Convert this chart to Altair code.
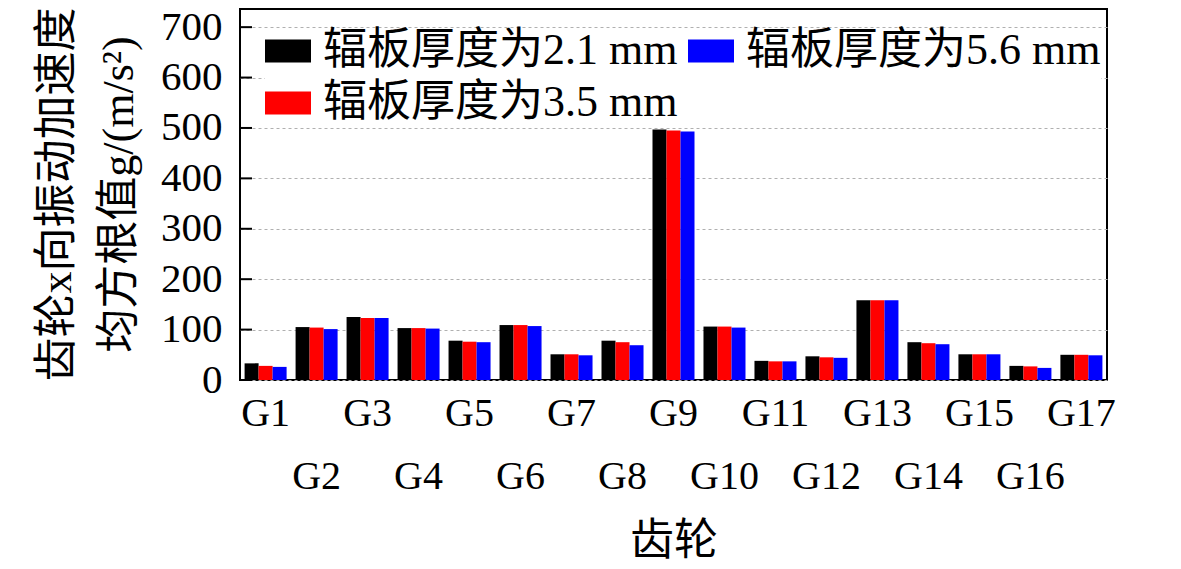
import altair as alt
import pandas as pd

FONT = "'Liberation Serif', 'Times New Roman', 'Noto Sans CJK SC'"

gears = [f"G{i}" for i in range(1, 18)]
series = ["辐板厚度为2.1 mm", "辐板厚度为3.5 mm", "辐板厚度为5.6 mm"]
colors = ["#000000", "#ff0000", "#0000ff"]
v21 = [33, 105, 125, 103, 78, 109, 51, 78, 497, 106, 38, 47, 158, 75, 51, 28, 50]
v35 = [28, 104, 123, 103, 76, 109, 51, 75, 495, 106, 37, 45, 158, 73, 51, 27, 50]
v56 = [26, 101, 123, 102, 75, 107, 49, 69, 493, 104, 37, 44, 158, 71, 51, 24, 49]
y_ticks = [0, 100, 200, 300, 400, 500, 600, 700]
y_title = ["齿轮x向振动加速度", "均方根值g/(m/s²)"]
x_title = "齿轮"

rows = []
for s, vals in zip(series, [v21, v35, v56]):
    for g, v in zip(gears, vals):
        rows.append({"gear": g, "series": s, "value": v})
df = pd.DataFrame(rows)

odd_labels = pd.DataFrame({"gear": gears[0::2]})
even_labels = pd.DataFrame({"gear": gears[1::2]})
tick_df = pd.DataFrame({"v": y_ticks})

x_enc = alt.X(
    "gear:N",
    sort=gears,
    scale=alt.Scale(paddingInner=0.176, paddingOuter=0.09),
    axis=alt.Axis(
        labels=False, ticks=False, domain=False, grid=False,
        title=x_title, titleFont=FONT, titleFontSize=44, titleFontWeight="normal",
        titleColor="black", titlePadding=139,
    ),
)

y_scale = alt.Scale(domain=[0, 736], nice=False, zero=True)

bars = alt.Chart(df).mark_bar().encode(
    x=x_enc,
    xOffset=alt.XOffset("series:N", sort=series, scale=alt.Scale(paddingInner=0, paddingOuter=0)),
    y=alt.Y(
        "value:Q",
        scale=y_scale,
        axis=alt.Axis(
            values=y_ticks, ticks=False, domain=False, labelPadding=18,
            labelFont=FONT, labelFontSize=41, labelColor="black",
            grid=True, gridDash=[3, 3], gridColor="#b0b0b0", gridWidth=1,
            title=y_title, titleFont=FONT, titleFontSize=44, titleFontWeight="normal",
            titleColor="black", titleAngle=270, titleBaseline="top", titleAlign="center",
            titleLineHeight=62, titleX=-205, titleY=185,
        ),
    ),
    color=alt.Color(
        "series:N",
        sort=series,
        scale=alt.Scale(domain=series, range=colors),
        legend=alt.Legend(
            orient="none", legendX=25, legendY=19, columns=2, title=None,
            values=series,
            symbolType="M-1,-0.5H1V0.5H-1Z", symbolSize=2116, symbolStrokeWidth=0,
            symbolOpacity=1,
            labelFont=FONT, labelFontSize=44, labelColor="black", labelLimit=600,
            labelOffset=12, columnPadding=10, rowPadding=7, padding=0,
            fillColor="white",
        ),
    ),
)

tick_rules = alt.Chart(tick_df).mark_rule(color="black", strokeWidth=2).encode(
    y=alt.Y("v:Q", scale=y_scale),
    x=alt.value(0),
    x2=alt.value(12),
)

lab1 = alt.Chart(odd_labels).mark_text(
    font=FONT, fontSize=40, color="black", align="center", baseline="alphabetic"
).encode(x=alt.X("gear:N", sort=gears), y=alt.value(417), text="gear:N")

lab2 = alt.Chart(even_labels).mark_text(
    font=FONT, fontSize=40, color="black", align="center", baseline="alphabetic"
).encode(x=alt.X("gear:N", sort=gears), y=alt.value(480), text="gear:N")

chart = alt.layer(bars, tick_rules, lab1, lab2).properties(
    width=867, height=371,
    autosize=alt.AutoSizeParams(type="none"),
    padding={"left": 232, "top": 1, "right": 60, "bottom": 188},
    background="white",
).configure_view(stroke="black", strokeWidth=2)

chart.save("out.html", embed_options={"renderer": "svg", "actions": False})
